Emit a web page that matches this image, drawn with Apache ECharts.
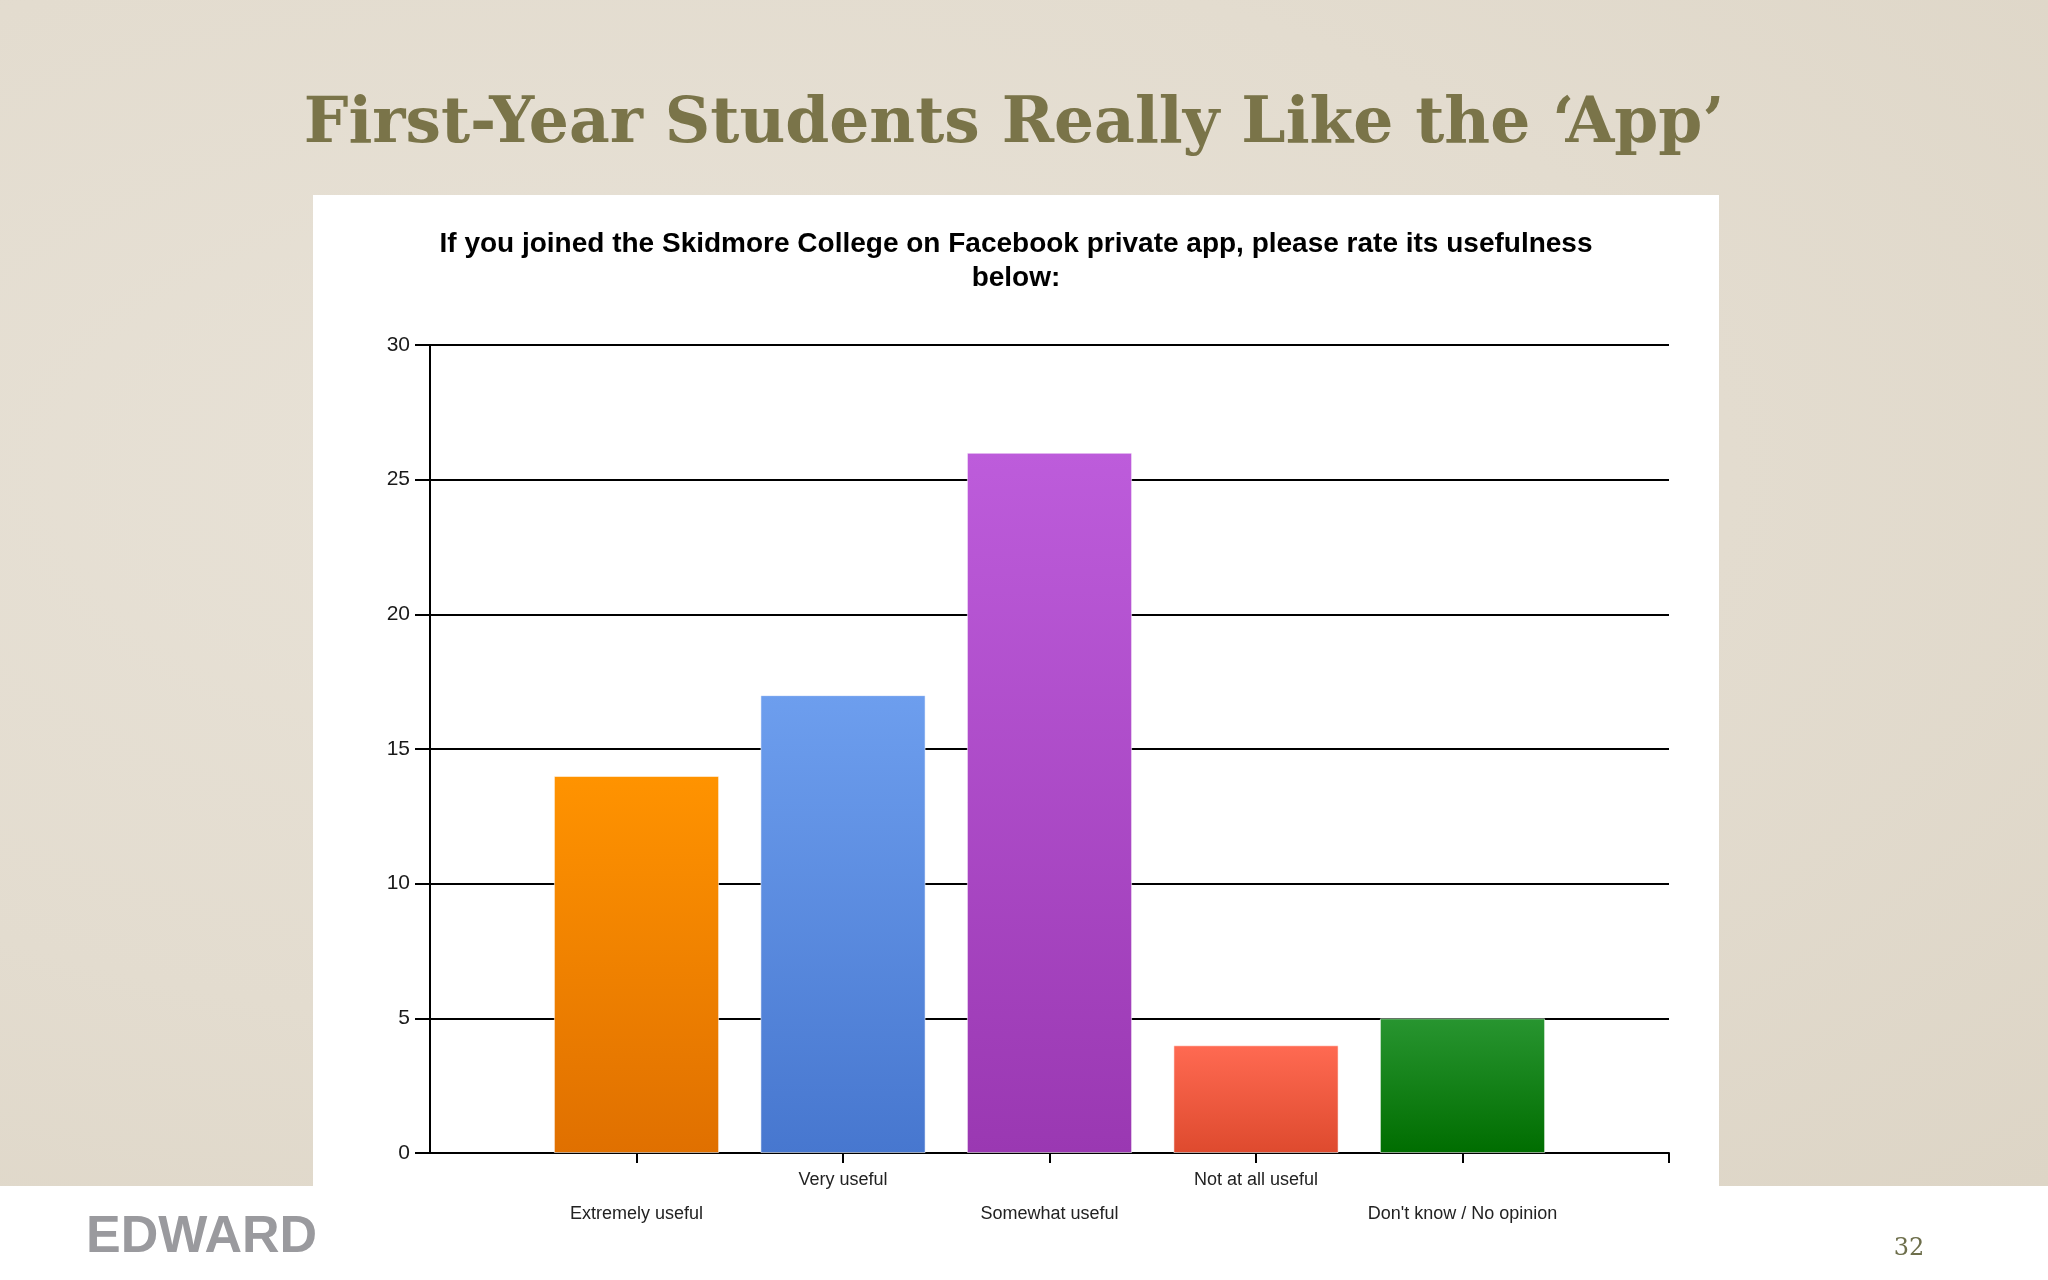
<!DOCTYPE html>
<html>
<head>
<meta charset="utf-8">
<script src="https://cdn.jsdelivr.net/npm/echarts@6/dist/echarts.min.js"></script>
<style>
  html, body { margin: 0; padding: 0; }
  #stage { position: relative; width: 2048px; height: 1280px; background: #e4ddd1; overflow: hidden; }
  #paper { position: absolute; left: 0; top: 0; width: 2048px; height: 1186px;
    background: radial-gradient(ellipse at 30% 40%, #e8e2d7 0%, #e3dccf 55%, #ddd5c6 100%); }
  #strip { position: absolute; left: 0; top: 1186px; width: 2048px; height: 94px; background: #ffffff; }
  #panel { position: absolute; left: 313px; top: 195px; width: 1406px; height: 991px; background: #ffffff; }
  #chart { position: absolute; left: 0; top: 0; width: 2048px; height: 1280px; }
</style>
</head>
<body>
<div id="stage">
  <div id="paper"></div>
  <div id="strip"></div>
  <div id="panel"></div>
  <div id="chart"></div>
</div>
<script>
// ---- data ----
const slideTitle = "First-Year Students Really Like the \u2018App\u2019";
const chartTitle = "If you joined the Skidmore College on Facebook private app, please rate its usefulness\nbelow:";
const categories = ["Extremely useful", "Very useful", "Somewhat useful", "Not at all useful", "Don't know / No opinion"];
const counts = [14, 17, 26, 4, 5];
const yTicks = { min: 0, max: 30, step: 5 };
const logoText = "EDWARD";
const pageNumber = "32";

// ---- styles (separate from data) ----
const barGradients = [
  ["#ff9300", "#e07000"],
  ["#6d9eee", "#4777cf"],
  ["#bd5cdb", "#9a38b2"],
  ["#ff6a52", "#de4a2e"],
  ["#289530", "#006d00"]
];

const axisCats = [""].concat(categories, [""]);
const seriesData = axisCats.map(function (c, i) {
  if (i === 0 || i === axisCats.length - 1) return null;
  const k = i - 1;
  return {
    value: counts[k],
    itemStyle: {
      color: { type: "linear", x: 0, y: 0, x2: 0, y2: 1,
        colorStops: [{ offset: 0, color: barGradients[k][0] }, { offset: 1, color: barGradients[k][1] }] },
      borderColor: "rgba(255,255,255,0.55)",
      borderWidth: 1
    }
  };
});

const chart = echarts.init(document.getElementById("chart"), null, { width: 2048, height: 1280 });
chart.setOption({
  backgroundColor: "transparent",
  animation: false,
  grid: { left: 430, right: 379, top: 345, bottom: 127, containLabel: false },
  xAxis: {
    type: "category",
    data: axisCats,
    boundaryGap: false,
    axisLine: { show: true, lineStyle: { color: "#000", width: 2 } },
    axisTick: { show: true, length: 10, lineStyle: { color: "#000", width: 2 },
      interval: function (idx) { return idx !== 0; } },
    axisLabel: {
      interval: 0, fontSize: 18, color: "#222", lineHeight: 34, margin: 10,
      fontFamily: "Liberation Sans, Arial, sans-serif",
      formatter: function (v, idx) { return (idx % 2 === 1) ? "\n" + v : v; }
    },
    splitLine: { show: false }
  },
  yAxis: {
    type: "value",
    min: yTicks.min, max: yTicks.max, interval: yTicks.step,
    axisLine: { show: true, lineStyle: { color: "#000", width: 2 } },
    axisTick: { show: true, length: 15, lineStyle: { color: "#000", width: 2 } },
    axisLabel: { fontSize: 21, color: "#1a1a1a", margin: 20, fontFamily: "Liberation Sans, Arial, sans-serif" },
    splitLine: { show: true, lineStyle: { color: "#000", width: 2 } }
  },
  series: [{
    type: "bar",
    data: seriesData,
    barWidth: "80%",
    z: 3
  }],
  graphic: [
    { type: "text", x: 1014, y: 126, style: { text: slideTitle, font: 'bold 63px "DejaVu Serif", serif',
        fill: "#7a7449", align: "center", verticalAlign: "middle" } },
    { type: "text", x: 1016, y: 227, style: { text: chartTitle, font: 'bold 28px "Liberation Sans", Arial, sans-serif',
        fill: "#000", align: "center", verticalAlign: "top", lineHeight: 34 } },
    { type: "text", x: 86, y: 1238, style: { text: logoText, font: 'bold 52px "Liberation Sans", Arial, sans-serif',
        fill: "#9a9a9e", align: "left", verticalAlign: "middle" } },
    { type: "text", x: 1909, y: 1249, style: { text: pageNumber, font: '24px "DejaVu Serif", serif',
        fill: "#6e6f4c", align: "center", verticalAlign: "middle" } }
  ]
});
</script>
</body>
</html>
